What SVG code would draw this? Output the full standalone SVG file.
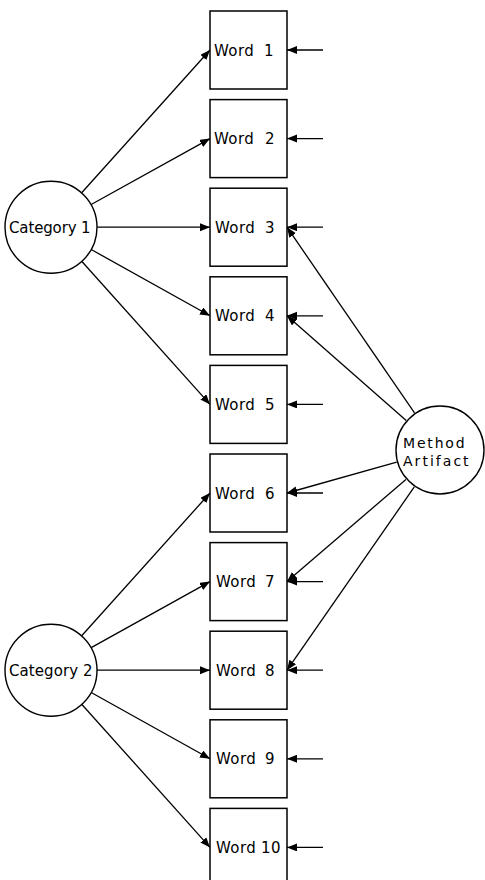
<svg xmlns="http://www.w3.org/2000/svg" width="485" height="880" viewBox="0 0 485 880">
<defs>
<marker id="ah" markerUnits="userSpaceOnUse" markerWidth="12" markerHeight="9" refX="10" refY="4" orient="auto">
<path d="M0,0 L10,4 L0,8 z" fill="#000"/>
</marker>
<style>
.box{fill:#fff;stroke:#000;stroke-width:1.5}
.circ{fill:#fff;stroke:#000;stroke-width:1.4}
.t{font-family:"DejaVu Sans","Liberation Sans",sans-serif;font-size:15px;fill:#000;letter-spacing:0.4px}
.m{font-size:14px}
.c line{stroke:#000;stroke-width:1.3;marker-end:url(#ah)}
</style>
</defs>
<rect width="485" height="880" fill="#fff"/>
<g id="connectors" class="c">
<line x1="81.7" y1="192.8" x2="210" y2="50"/>
<line x1="91.2" y1="204.5" x2="210" y2="138.6"/>
<line x1="97" y1="227.2" x2="210" y2="227.2"/>
<line x1="91.2" y1="249.5" x2="210" y2="315.8"/>
<line x1="81.7" y1="261.2" x2="210" y2="404.4"/>
<line x1="81.7" y1="635.8" x2="210" y2="493"/>
<line x1="91.2" y1="647.6" x2="210" y2="581.6"/>
<line x1="97" y1="670.2" x2="210" y2="670.2"/>
<line x1="91.2" y1="692.5" x2="210" y2="758.8"/>
<line x1="81.7" y1="704.2" x2="210" y2="847.4"/>
<line x1="414.5" y1="412.9" x2="287" y2="227.2"/>
<line x1="406.2" y1="420.4" x2="287" y2="315.8"/>
<line x1="396.7" y1="462.2" x2="287" y2="493"/>
<line x1="405.9" y1="479.4" x2="287" y2="581.6"/>
<line x1="414.3" y1="486.9" x2="287" y2="670.2"/>
<line x1="323" y1="50" x2="287" y2="50"/>
<line x1="323" y1="138.6" x2="287" y2="138.6"/>
<line x1="323" y1="227.2" x2="287" y2="227.2"/>
<line x1="323" y1="315.8" x2="287" y2="315.8"/>
<line x1="323" y1="404.4" x2="287" y2="404.4"/>
<line x1="323" y1="493" x2="287" y2="493"/>
<line x1="323" y1="581.6" x2="287" y2="581.6"/>
<line x1="323" y1="670.2" x2="287" y2="670.2"/>
<line x1="323" y1="758.8" x2="287" y2="758.8"/>
<line x1="323" y1="847.4" x2="287" y2="847.4"/>
</g>
<g id="word1"><rect class="box" x="210" y="11" width="77" height="78"/><text class="t" x="214" y="55.5">Word <tspan x="264">1</tspan></text></g>
<g id="word2"><rect class="box" x="210" y="99.6" width="77" height="78"/><text class="t" x="214" y="144.1">Word <tspan x="265">2</tspan></text></g>
<g id="word3"><rect class="box" x="210" y="188.2" width="77" height="78"/><text class="t" x="215" y="232.7">Word <tspan x="265">3</tspan></text></g>
<g id="word4"><rect class="box" x="210" y="276.8" width="77" height="78"/><text class="t" x="215" y="321.3">Word <tspan x="265">4</tspan></text></g>
<g id="word5"><rect class="box" x="210" y="365.4" width="77" height="78"/><text class="t" x="215" y="409.9">Word <tspan x="265">5</tspan></text></g>
<g id="word6"><rect class="box" x="210" y="454" width="77" height="78"/><text class="t" x="215" y="498.5">Word <tspan x="265">6</tspan></text></g>
<g id="word7"><rect class="box" x="210" y="542.6" width="77" height="78"/><text class="t" x="216" y="587.1">Word <tspan x="265">7</tspan></text></g>
<g id="word8"><rect class="box" x="210" y="631.2" width="77" height="78"/><text class="t" x="216" y="675.7">Word <tspan x="265">8</tspan></text></g>
<g id="word9"><rect class="box" x="210" y="719.8" width="77" height="78"/><text class="t" x="216" y="764.3">Word <tspan x="265">9</tspan></text></g>
<g id="word10"><rect class="box" x="210" y="808.4" width="77" height="78"/><text class="t" x="216" y="852.9">Word <tspan x="261">10</tspan></text></g>
<g id="category1"><circle class="circ" cx="51" cy="227.2" r="46"/><text class="t" x="50" y="232.7" text-anchor="middle" textLength="82" lengthAdjust="spacing">Category 1</text></g>
<g id="category2"><circle class="circ" cx="51" cy="670.2" r="46"/><text class="t" x="51" y="675.7" text-anchor="middle" textLength="84" lengthAdjust="spacing">Category 2</text></g>
<g id="method"><circle class="circ" cx="440" cy="450" r="44"/><text class="t m" x="403" y="448" textLength="62" lengthAdjust="spacing">Method</text><text class="t m" x="403" y="466" textLength="66" lengthAdjust="spacing">Artifact</text></g>
</svg>
